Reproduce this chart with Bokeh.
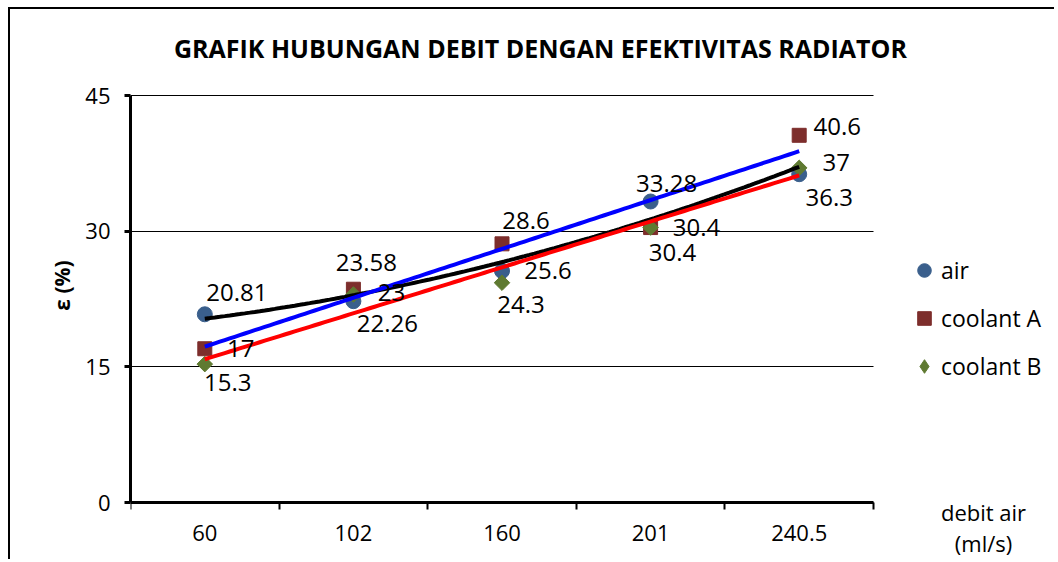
import numpy as np
from bokeh.plotting import figure
from bokeh.models import ColumnDataSource, Range1d, FixedTicker, Label, Legend, LegendItem
from bokeh.embed import file_html
from bokeh.resources import INLINE
from bokeh.core.properties import value

# ---------------- data ----------------
categories = ["60", "102", "160", "201", "240.5"]
air = [20.81, 22.26, 25.6, 33.28, 36.3]
coolant_a = [17, 23.58, 28.6, 30.4, 40.6]
coolant_b = [15.3, 23, 24.3, 30.4, 37]
series_names = ["air", "coolant A", "coolant B"]
y_ticks = [0, 15, 30, 45]
title_text = "GRAFIK HUBUNGAN DEBIT DENGAN EFEKTIVITAS RADIATOR"
y_title = "ε (%)"
x_title = ["debit air", "(ml/s)"]

# ---------------- styles / geometry ----------------
FONT = "Open Sans"
marker_colors = ["#3A5F8C", "#7D2E2C", "#5F7A31"]
trend_colors = ["black", "#0000FF", "#FF0000"]
air_off = [(32, -22), (34, 22), (46, 0), (16, -18), (30, 23)]
a_off = [(36, 0), (13, -27), (24, -23), (22, 25), (38, -9)]
b_off = [(23, 18), (38, -2), (19, 22), (46, 0), (37, -5)]

W, H = 1046, 552           # canvas size
OX, OY = 10, 9             # canvas origin on the page
FL = 130                   # frame left (page px)
X0_PX, Y0_PX = 130, 502    # page px of x=0.5 and y=0
XU, YU = 148.6, 9.0444     # px per category / per unit

def px2x(px):
    return 0.5 + (px - X0_PX) / XU

def px2y(py):
    return (Y0_PX - py) / YU

n = len(categories)
x = list(range(1, n + 1))

p = figure(width=W, height=H, output_backend="svg", toolbar_location=None,
           x_range=Range1d(0.5, px2x(OX + W)), y_range=Range1d(px2y(OY + H), px2y(OY)),
           min_border=0, min_border_left=FL - OX, min_border_right=0,
           min_border_top=0, min_border_bottom=0)
p.outline_line_color = None
p.background_fill_color = "white"
p.border_fill_color = "white"
p.styles = {"margin-left": "8px", "margin-top": "7px",
            "border-left": "2px solid black", "border-top": "2px solid black"}

# grid (horizontal lines only, limited to the category area)
p.xgrid.visible = False
g = p.ygrid[0]
g.ticker = FixedTicker(ticks=y_ticks, minor_ticks=[])
g.grid_line_color = "black"
g.grid_line_width = 1
if "cross_bounds" in g.properties():
    g.cross_bounds = (0.5, n + 0.5)

# x axis: drawn at y=0, labels at category centres, marks at category boundaries
xa = p.xaxis[0]
xa.fixed_location = 0
xa.bounds = (0.5, n + 0.5)
xa.ticker = FixedTicker(ticks=x, minor_ticks=[v - 0.5 for v in x] + [x[-1] + 0.5])
xa.major_label_overrides = {v: c for v, c in zip(x, categories)}
xa.major_tick_out = 0
xa.major_tick_in = 0
xa.minor_tick_out = 7
xa.minor_tick_in = 0
xa.minor_tick_line_width = 2
xa.minor_tick_line_color = "black"
xa.axis_line_width = 3
xa.axis_line_color = "black"
xa.major_label_text_font = FONT
xa.major_label_text_font_size = "22px"
xa.major_label_text_color = "black"
xa.major_label_standoff = 15

# y axis
ya = p.yaxis[0]
ya.bounds = (y_ticks[0], y_ticks[-1])
ya.ticker = FixedTicker(ticks=y_ticks, minor_ticks=[])
ya.major_tick_out = 6
ya.major_tick_in = 0
ya.major_tick_line_width = 3
ya.major_tick_line_color = "black"
ya.axis_line_width = 3
ya.axis_line_color = "black"
ya.major_label_text_font = FONT
ya.major_label_text_font_size = "22px"
ya.major_label_text_color = "black"
ya.major_label_standoff = 14
ya.axis_label = y_title
ya.axis_label_text_font = FONT
ya.axis_label_text_font_size = "21px"
ya.axis_label_text_font_style = "bold"
ya.axis_label_text_color = "black"
ya.axis_label_standoff = 6

# markers
series = [air, coolant_a, coolant_b]
# diamond-shaped legend key for coolant B (hidden underneath the rotated squares)
b_key = p.scatter(x=x, y=coolant_b, marker="diamond", size=9,
                  fill_color=marker_colors[2], line_color=marker_colors[2])
markers = [dict(marker="circle", size=15, angle=0),
           dict(marker="square", size=14, angle=0),
           dict(marker="square", size=11, angle=np.pi / 4)]
renderers = []
for vals, col, mk in zip(series, marker_colors, markers):
    r = p.scatter(x=x, y=vals, marker=mk["marker"], size=mk["size"], angle=mk["angle"],
                  fill_color=col, line_color=col)
    renderers.append(r)

# trendlines (Excel-style: polynomial order 2 for air, linear for coolants)
xs = np.linspace(x[0], x[-1], 120)
fits = [np.polyval(np.polyfit(x, air, 2), xs),
        np.polyval(np.polyfit(x, coolant_a, 1), xs),
        np.polyval(np.polyfit(x, coolant_b, 1), xs)]
for fy, col in zip(fits, trend_colors):
    p.line(xs, fy, line_color=col, line_width=4)

# data labels
for vals, offs in zip(series, [air_off, a_off, b_off]):
    src = ColumnDataSource(dict(x=x, y=vals, t=[f"{v:g}" for v in vals],
                                dx=[o[0] for o in offs], dy=[o[1] for o in offs]))
    p.text(x="x", y="y", text="t", x_offset="dx", y_offset="dy", source=src,
           text_font=value(FONT), text_font_size="24px", text_color="black",
           text_align="center", text_baseline="middle")

# legend (location = bottom-left corner of the legend, measured from frame bottom-left)
legend_renderers = [renderers[0], renderers[1], b_key]
GW = 34
legend = Legend(items=[LegendItem(label=nm, renderers=[r])
                       for nm, r in zip(series_names, legend_renderers)],
                location=(924 - GW // 2 - FL, OY + H - 383), orientation="vertical")
legend.glyph_width = GW
legend.glyph_height = GW
legend.label_standoff = 0
legend.spacing = 48 - GW
legend.padding = 0
legend.margin = 0
legend.border_line_color = None
legend.background_fill_alpha = 0
legend.label_text_font = FONT
legend.label_text_font_size = "23px"
legend.label_text_color = "black"
legend.label_text_baseline = "middle"
p.add_layout(legend)

# chart title and x-axis title
p.add_layout(Label(x=px2x(540), y=px2y(47), text=title_text,
                   text_font=FONT, text_font_size="25px", text_font_style="bold",
                   text_align="center", text_baseline="middle", text_color="black"))
for t, py in zip(x_title, [511, 542]):
    p.add_layout(Label(x=px2x(983), y=px2y(py), text=t,
                       text_font=FONT, text_font_size="22px", text_align="center",
                       text_baseline="middle", text_color="black"))

open("out.html", "w").write(file_html(p, INLINE))
